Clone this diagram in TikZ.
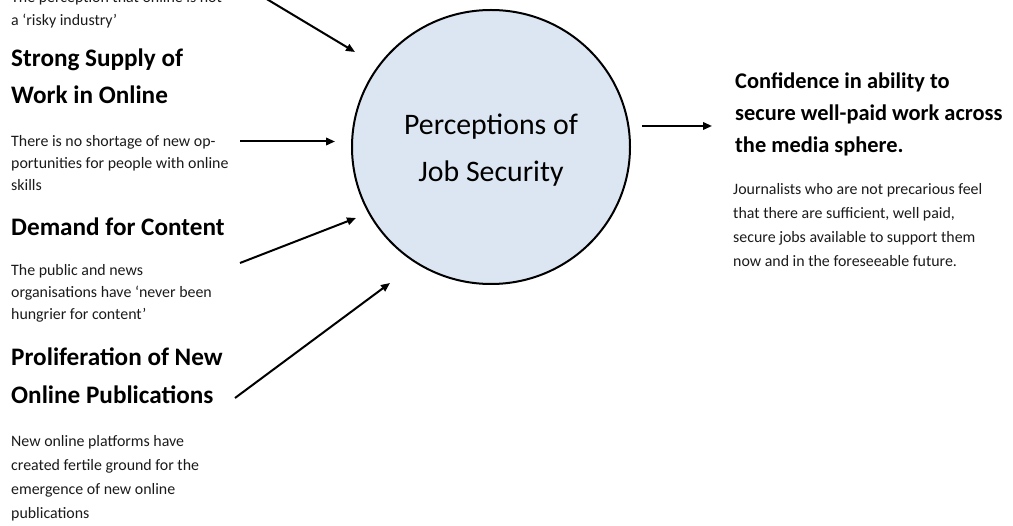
\documentclass[tikz,border=0pt]{standalone}
\usepackage{fontspec}
\setmainfont{Carlito}
\usetikzlibrary{arrows.meta,shapes.geometric}
\definecolor{circfill}{HTML}{DCE6F2}
\definecolor{txt}{HTML}{1A1A1A}
\begin{document}
\begin{tikzpicture}[x=1pt,y=-1pt,
  body/.style={anchor=base west,inner sep=0pt,text=txt,font=\fontsize{15.9}{19}\selectfont},
  headl/.style={anchor=base west,inner sep=0pt,text=black,font=\fontsize{25.2}{30}\selectfont\bfseries},
  headr/.style={anchor=base west,inner sep=0pt,text=black,font=\fontsize{22.4}{28}\selectfont\bfseries},
  ctext/.style={anchor=base,inner sep=0pt,text=black,font=\fontsize{29.8}{35}\selectfont},
  bubble/.style={ellipse,draw=black,line width=2pt,fill=circfill,minimum width=278pt,minimum height=274pt,inner sep=0pt},
  arr/.style={line width=2pt,-{Triangle[length=9pt,width=7.5pt]}}
]
\useasboundingbox (0,0) rectangle (1013,526);

% central bubble
\node[bubble] (c) at (491,147) {};
\node[ctext] (c1) at (491,135) {Perceptions of};
\node[ctext] (c2) at (491,182) {Job Security};

% left column
\node[body] (a1) at (11,3) {The perception that online is not};
\node[body] (a2) at (11,26) {a ‘risky industry’};

\node[headl] (b1) at (11,67) {Strong Supply of};
\node[headl] (b2) at (11,104) {Work in Online};
\node[body] (b3) at (11,147) {There is no shortage of new op-};
\node[body] (b4) at (11,169) {portunities for people with online};
\node[body] (b5) at (11,191) {skills};

\node[headl] (d1) at (11,236) {Demand for Content};
\node[body] (d2) at (11,276) {The public and news};
\node[body] (d3) at (11,298) {organisations have ‘never been};
\node[body] (d4) at (11,320) {hungrier for content’};

\node[headl] (p1) at (11,366) {Proliferation of New};
\node[headl] (p2) at (11,404) {Online Publications};
\node[body] (p3) at (11,447) {New online platforms have};
\node[body] (p4) at (11,471) {created fertile ground for the};
\node[body] (p5) at (11,495) {emergence of new online};
\node[body] (p6) at (11,519) {publications};

% right column
\node[headr] (r1) at (735,89) {Confidence in ability to};
\node[headr] (r2) at (735,121) {secure well-paid work across};
\node[headr] (r3) at (735,153) {the media sphere.};
\node[body] (r4) at (733,195) {Journalists who are not precarious feel};
\node[body] (r5) at (733,219) {that there are sufficient, well paid,};
\node[body] (r6) at (733,243) {secure jobs available to support them};
\node[body] (r7) at (733,267) {now and in the foreseeable future.};

% arrow ends
\coordinate (s1) at (205,-38);  \coordinate (e1) at (355,52);
\coordinate (s2) at (240,141.5); \coordinate (e2) at (335,141.5);
\coordinate (s3) at (240,263);  \coordinate (e3) at (356,218);
\coordinate (s4) at (235,398);  \coordinate (e4) at (390,283);
\coordinate (s5) at (642,126);  \coordinate (e5) at (712,126);

\draw[arr] (s1) -- (e1);
\draw[arr] (s2) -- (e2);
\draw[arr] (s3) -- (e3);
\draw[arr] (s4) -- (e4);
\draw[arr] (s5) -- (e5);
\end{tikzpicture}
\end{document}
